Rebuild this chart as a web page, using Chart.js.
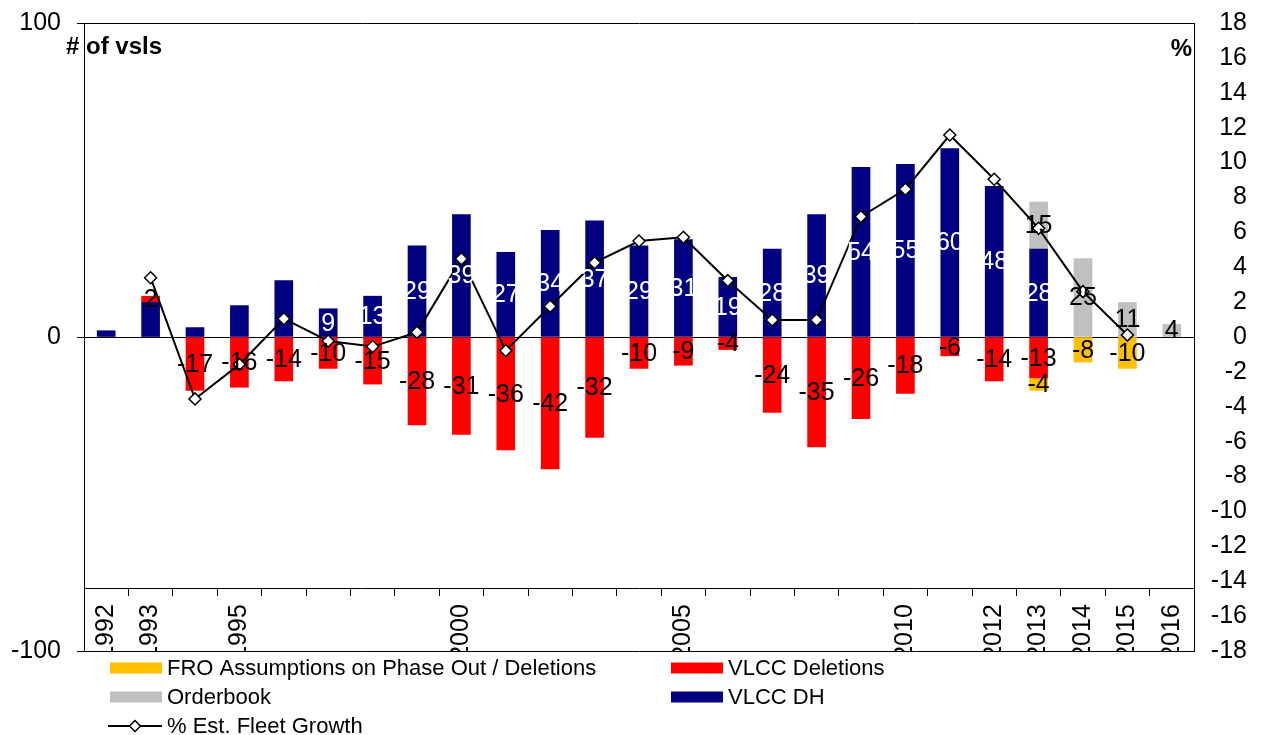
<!DOCTYPE html>
<html>
<head>
<meta charset="utf-8">
<title>VLCC fleet development</title>
<script src="https://cdn.jsdelivr.net/npm/chart.js"></script>
<style>
  html, body { margin: 0; padding: 0; background: #fff; }
  #wrap { width: 1261px; height: 735px; }
</style>
</head>
<body>
<div id="wrap"><canvas id="grafico" width="1261" height="735"></canvas></div>
<script>
// dados
const anos = ['1992', '1993', '1994', '1995', '1996', '1997', '1998', '1999', '2000', '2001', '2002', '2003', '2004',
  '2005', '2006', '2007', '2008', '2009', '2010', '2011', '2012', '2013', '2014', '2015', '2016'];
const anosVisiveis = ['1992', '1993', '1995', '2000', '2005', '2010', '2012', '2013', '2014', '2015', '2016'];

const vlccDh = [2, 11, 3, 10, 18, 9, 13, 29, 39, 27, 34, 37, 29, 31, 19, 28, 39, 54, 55, 60, 48, 28, null, null, null];
const orderbook = [null, null, null, null, null, null, null, null, null, null, null, null, null,
  null, null, null, null, null, null, null, null, 15, 25, 11, 4];
const vlccDeletions = [null, 2, -17, -16, -14, -10, -15, -28, -31, -36, -42, -32, -10, -9, -4, -24, -35, -26, -18, -6, -14, -13, null, null, null];
const froDeletions = [null, null, null, null, null, null, null, null, null, null, null, null, null,
  null, null, null, null, null, null, null, null, -4, -8, -10, null];
const fleetGrowth = [null, 3.4, -3.55, -1.57, 1.05, -0.23, -0.55, 0.27, 4.49, -0.78, 1.76, 4.26, 5.5,
  5.72, 3.23, 0.97, 0.97, 6.9, 8.47, 11.58, 9.04, 6.23, 2.6, 0.11, null];

const ticksEsq = [-100, 0, 100];
const ticksDir = { min: -18, max: 18, step: 2 };
const eixoCategorias = -80; // valor do eixo esquerdo onde fica a linha dos anos
const inicioRotulosDh = 5;  // rótulos do VLCC DH só a partir de 1997

const FONTE = 'Arial, "Liberation Sans", sans-serif';

// rótulos de valor no meio de cada barra
const rotulosBarras = {
  id: 'rotulosBarras',
  afterDatasetsDraw(chart) {
    const ctx = chart.ctx;
    ctx.save();
    ctx.font = '25px ' + FONTE;
    ctx.textAlign = 'center';
    ctx.textBaseline = 'middle';
    chart.data.datasets.forEach((ds, i) => {
      if (ds.type === 'line') return;
      const meta = chart.getDatasetMeta(i);
      meta.data.forEach((bar, j) => {
        const v = ds.data[j];
        if (v === null || v === 0) return;
        if (ds.label === 'VLCC DH' && j < inicioRotulosDh) return;
        ctx.fillStyle = ds.corRotulo;
        ctx.fillText(String(v), bar.x, (bar.y + bar.base) / 2 + 1);
      });
    });
    ctx.restore();
  }
};

// títulos dos eixos, corte dos anos e legenda
const moldura = {
  id: 'moldura',
  afterDraw(chart) {
    const ctx = chart.ctx;
    const area = chart.chartArea;
    ctx.save();
    // os anos ficam cortados na borda inferior do gráfico
    ctx.fillStyle = '#fff';
    ctx.fillRect(area.left + 1, area.bottom + 1, area.right - area.left - 1, 11);

    ctx.fillStyle = '#000';
    ctx.font = 'bold 24px ' + FONTE;
    ctx.textBaseline = 'middle';
    ctx.textAlign = 'left';
    ctx.fillText('# of vsls', 66, 47);
    ctx.textAlign = 'right';
    ctx.fillText('%', 1192, 49);

    // legenda em duas colunas
    const itens = [
      { label: 'FRO Assumptions on Phase Out / Deletions', x: 110, y: 668 },
      { label: 'Orderbook', x: 110, y: 697 },
      { label: '% Est. Fleet Growth', x: 110, y: 726 },
      { label: 'VLCC Deletions', x: 671, y: 668 },
      { label: 'VLCC DH', x: 671, y: 697 }
    ];
    ctx.font = '22px ' + FONTE;
    ctx.textAlign = 'left';
    itens.forEach(item => {
      const ds = chart.data.datasets.find(d => d.label === item.label);
      if (ds.type === 'line') {
        ctx.strokeStyle = '#000';
        ctx.lineWidth = 2;
        ctx.beginPath();
        ctx.moveTo(item.x - 2, item.y);
        ctx.lineTo(item.x + 52, item.y);
        ctx.stroke();
        const cx = item.x + 25, r = 5.5;
        ctx.beginPath();
        ctx.moveTo(cx, item.y - r);
        ctx.lineTo(cx + r, item.y);
        ctx.lineTo(cx, item.y + r);
        ctx.lineTo(cx - r, item.y);
        ctx.closePath();
        ctx.fillStyle = '#fff';
        ctx.fill();
        ctx.lineWidth = 1.5;
        ctx.stroke();
      } else {
        ctx.fillStyle = ds.backgroundColor;
        ctx.fillRect(item.x, item.y - 5.5, 52, 11);
      }
      ctx.fillStyle = '#000';
      ctx.fillText(item.label, item.x + 57, item.y + 1);
    });
    ctx.restore();
  }
};

function semFolgaVertical(scale, largura) {
  scale.width = largura;
  scale.paddingTop = 0;
  scale.paddingBottom = 0;
}

const ctx = document.getElementById('grafico').getContext('2d');
const chart = new Chart(ctx, {
  type: 'bar',
  data: {
    labels: anos,
    datasets: [
      {
        type: 'line',
        label: '% Est. Fleet Growth',
        data: fleetGrowth,
        yAxisID: 'y1',
        order: 0,
        borderColor: '#000',
        borderWidth: 2,
        tension: 0,
        pointStyle: 'rectRot',
        pointRadius: 6,
        pointBackgroundColor: '#fff',
        pointBorderColor: '#000',
        pointBorderWidth: 1.5
      },
      { label: 'VLCC DH', data: vlccDh, backgroundColor: '#000080', corRotulo: '#fff', order: 1 },
      { label: 'Orderbook', data: orderbook, backgroundColor: '#C0C0C0', corRotulo: '#000', order: 1 },
      { label: 'VLCC Deletions', data: vlccDeletions, backgroundColor: '#FF0000', corRotulo: '#000', order: 1 },
      { label: 'FRO Assumptions on Phase Out / Deletions', data: froDeletions, backgroundColor: '#FFC000', corRotulo: '#000', order: 1 }
    ]
  },
  options: {
    responsive: false,
    animation: false,
    datasets: { bar: { barThickness: 18, borderWidth: 0 } },
    layout: { padding: { top: 23, bottom: 84, left: 0, right: 14 } },
    plugins: { legend: { display: false }, tooltip: { enabled: false } },
    scales: {
      x: {
        stacked: true,
        position: { y: eixoCategorias },
        afterFit(scale) {
          scale.height = 0;
          scale.paddingLeft = 0;
          scale.paddingRight = 0;
        },
        border: { display: true, color: '#000', width: 1 },
        grid: { drawOnChartArea: false, color: '#000', tickLength: 7 },
        ticks: {
          autoSkip: false,
          minRotation: 90,
          maxRotation: 90,
          padding: 9,
          color: '#000',
          font: { family: FONTE, size: 25 },
          callback(value, index) {
            return anosVisiveis.includes(anos[index]) ? anos[index] : '';
          }
        }
      },
      y: {
        stacked: true,
        position: 'left',
        min: -100,
        max: 100,
        afterFit(scale) { semFolgaVertical(scale, 84); },
        afterBuildTicks(scale) { scale.ticks = ticksEsq.map(v => ({ value: v })); },
        border: { display: true, color: '#000', width: 1 },
        grid: { color: '#000', tickLength: 7, lineWidth: 1 },
        ticks: { padding: 16, color: '#000', font: { family: FONTE, size: 25 } }
      },
      y1: {
        position: 'right',
        min: ticksDir.min,
        max: ticksDir.max,
        afterFit(scale) { semFolgaVertical(scale, 53); },
        border: { display: true, color: '#000', width: 1 },
        grid: { drawOnChartArea: false, drawTicks: false },
        ticks: {
          stepSize: ticksDir.step,
          crossAlign: 'far',
          padding: 6,
          color: '#000',
          font: { family: FONTE, size: 25 }
        }
      }
    }
  },
  plugins: [rotulosBarras, moldura]
});
</script>
</body>
</html>
